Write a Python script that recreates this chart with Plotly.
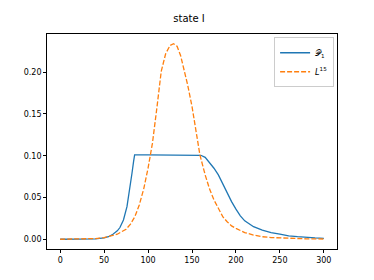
import plotly.graph_objects as go

title_text = "state I"

p1_x = [0, 20, 30, 40, 50, 55, 60, 65, 68, 72, 76, 79, 81.7, 83.5, 84.7, 100, 120, 140, 158, 160,
        165, 170, 175, 180, 185, 190, 195, 200, 205, 210, 215, 220, 230, 240, 250, 260, 270, 280, 290, 300]
p1_y = [0, 0, 0.0001, 0.0004, 0.0015, 0.003, 0.006, 0.010, 0.014, 0.023, 0.039, 0.058, 0.079, 0.093, 0.101,
        0.101, 0.101, 0.101, 0.101, 0.1005, 0.098, 0.092, 0.085, 0.077, 0.066, 0.055, 0.045, 0.036, 0.028,
        0.022, 0.018, 0.015, 0.011, 0.008, 0.006, 0.004, 0.003, 0.002, 0.0015, 0.001]

l_x = [0, 20, 30, 40, 50, 55, 60, 65, 70, 75, 80, 85, 90, 95, 100, 105, 110, 115, 120, 125, 129, 133,
       137, 141, 145, 150, 155, 159, 165, 170, 175, 180, 185, 190, 195, 200, 210, 220, 230, 240, 260, 280, 300]
l_y = [0, 0.0001, 0.0003, 0.0008, 0.0018, 0.003, 0.004, 0.006, 0.009, 0.012, 0.018, 0.027, 0.041, 0.060,
       0.085, 0.115, 0.157, 0.201, 0.222, 0.232, 0.234, 0.231, 0.220, 0.203, 0.185, 0.159, 0.124, 0.101,
       0.077, 0.060, 0.047, 0.036, 0.027, 0.021, 0.016, 0.013, 0.008, 0.005, 0.003, 0.002, 0.001, 0.0005, 0.0003]

x_ticks = [0, 50, 100, 150, 200, 250, 300]
y_ticks = [0.00, 0.05, 0.10, 0.15, 0.20]

fig = go.Figure()
fig.add_trace(go.Scatter(x=p1_x, y=p1_y, mode="lines", name="𝒫<sub>1</sub>",
                         line=dict(color="#1f77b4", width=1.3)))
fig.add_trace(go.Scatter(x=l_x, y=l_y, mode="lines", name="<i>L</i><sup>15</sup>",
                         line=dict(color="#ff7f0e", width=1.3, dash="5px,2px")))

axis_common = dict(showline=True, linecolor="black", linewidth=0.8, mirror=True, showgrid=False,
                   zeroline=False, ticks="outside", ticklen=3, tickwidth=0.8, tickcolor="black",
                   tickfont=dict(family="DejaVu Sans", size=8, color="black"))

# page has an 8px body margin; compensate so the axes land where the reference has them
fig.update_layout(
    width=374, height=280,
    margin=dict(l=39, r=45, t=26, b=39),
    paper_bgcolor="white", plot_bgcolor="white",
    title=dict(text=title_text, x=(189 - 8) / 374, xanchor="center", y=1 - 10 / 280, yanchor="middle",
               font=dict(family="DejaVu Sans", size=10, color="black")),
    xaxis=dict(range=[-15, 315], tickvals=x_ticks, ticktext=[str(v) for v in x_ticks], **axis_common),
    yaxis=dict(range=[-0.0117, 0.2457], tickvals=y_ticks, ticktext=[f"{v:.2f}" for v in y_ticks], **axis_common),
    legend=dict(x=0.99, y=0.985, xanchor="right", yanchor="top", bgcolor="rgba(255,255,255,0.8)",
                bordercolor="#cccccc", borderwidth=1, font=dict(family="DejaVu Sans", size=8, color="black"),
                itemwidth=30, tracegroupgap=0),
    showlegend=True,
)

fig.write_html("out.html")
